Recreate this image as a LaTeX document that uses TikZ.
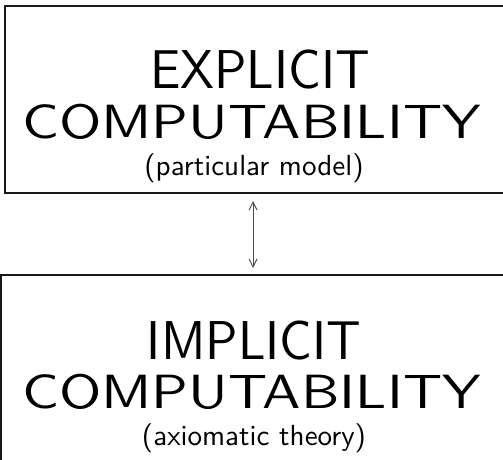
\documentclass[tikz,border=0pt]{standalone}
\usepackage{graphicx}
\usepackage{fontspec}
\newfontfamily\lmten[Extension=.otf]{lmsans10-regular}
\usetikzlibrary{arrows.meta}
\newcommand{\widen}[2]{\scalebox{#1}[1]{#2}}
\begin{document}
\begin{tikzpicture}[x=0.75pt,y=-0.75pt,
  boxline/.style={line width=1.1pt,draw=black!90},
  headtext/.style={font=\lmten\fontsize{41}{41}\selectfont,anchor=base,inner sep=0pt,text height=29pt,text depth=0pt},
  bigtext/.style={font=\lmten\fontsize{36}{36}\selectfont,anchor=base,inner sep=0pt,text height=25pt,text depth=0pt},
  smalltext/.style={font=\lmten\fontsize{21.8}{21.8}\selectfont,anchor=base,inner sep=0pt,text height=15pt,text depth=5pt},
  link/.style={line width=0.7pt,draw=black!70,{Straight Barb[length=6pt,width=6pt]}-{Straight Barb[length=6pt,width=6pt]}}]
\useasboundingbox (0,0) rectangle (503,460);
\begin{scope}
\clip (0,0) rectangle (503,460);
\draw[boxline] (5,6) rectangle (520,193);
\draw[boxline] (1,275) rectangle (520,480);
\end{scope}
\node[headtext] (e1) at (260,89) {\widen{0.93}{EXPLICIT}};
\node[bigtext] (e2) at (251.5,138) {\widen{1.2}{COMPUTABILITY}};
\node[smalltext] (e3) at (254,175.5) {(particular model)};
\node[headtext] (i1) at (254,359) {\widen{0.93}{IMPLICIT}};
\node[bigtext] (i2) at (251.5,408) {\widen{1.2}{COMPUTABILITY}};
\node[smalltext] (i3) at (254,445) {(axiomatic theory)};
\coordinate (a1) at (253,201);
\coordinate (a2) at (253,268);
\draw[link] (a1) -- (a2);
\end{tikzpicture}
\end{document}
